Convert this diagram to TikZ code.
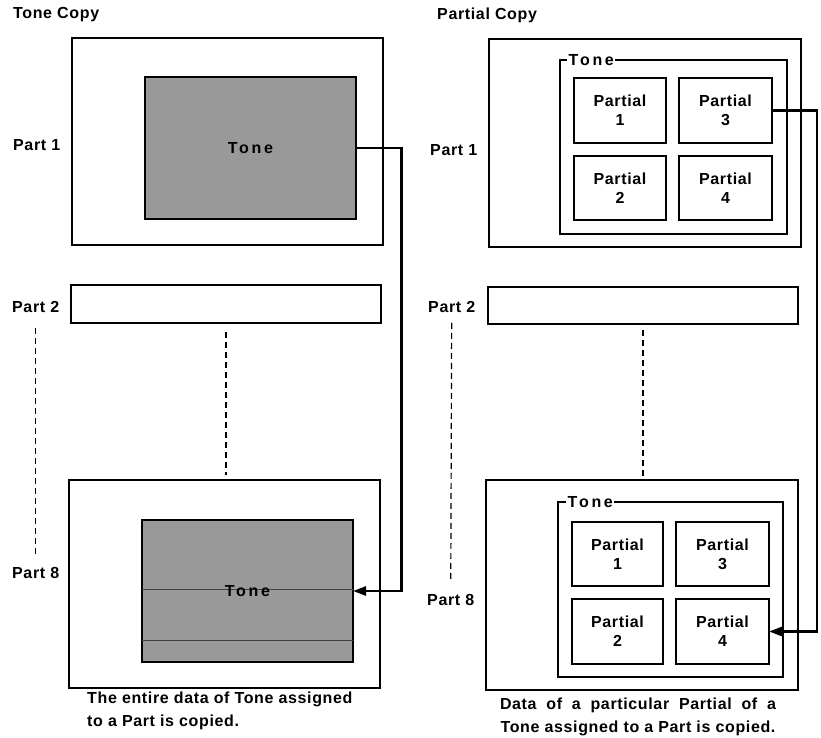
\documentclass[tikz,border=0pt]{standalone}
\usepackage{fontspec}
\newfontfamily\lf[LetterSpace=4]{Liberation Sans}
\newfontfamily\tf[LetterSpace=17]{Liberation Sans}
\usetikzlibrary{arrows.meta}
\begin{document}
\begin{tikzpicture}[x=1pt,y=-1pt,
  box/.style={draw, line width=1.4pt, inner sep=0pt, outer sep=0pt, anchor=north west},
  shadebox/.style={box, fill=black!40},
  lab/.style={font=\lf\bfseries\fontsize{16}{22.5}\selectfont, inner sep=0pt},
  plab/.style={font=\lf\bfseries\fontsize{16}{19}\selectfont, align=center},
  tonelab/.style={font=\tf\bfseries\fontsize{16}{18}\selectfont, inner sep=1.5pt},
  conn/.style={line width=2.6pt, -{Triangle[length=13pt,width=9pt]}},
  dashline/.style={line width=1.2pt, dash pattern=on 6pt off 4pt},
  streak/.style={line width=0.9pt, black!75},
]
\useasboundingbox (0,0) rectangle (821,738);

% ---------------- Left panel: Tone Copy ----------------
\node[lab, anchor=west] (titleL) at (13,15) {Tone Copy};

\node[box, minimum width=311pt, minimum height=207pt] (P1L) at (72,38) {};
\node[shadebox, minimum width=211pt, minimum height=142pt] (T1L) at (145,77) {};
\node[tonelab] (T1Llab) at (T1L.center) {Tone};
\node[lab, anchor=west] (p1l) at (13,145) {Part 1};

\node[box, minimum width=310pt, minimum height=38pt] (P2L) at (71,285) {};
\node[lab, anchor=west] (p2l) at (12,307) {Part 2};

\node[box, minimum width=311pt, minimum height=208pt] (P8L) at (69,480) {};
\node[shadebox, minimum width=211pt, minimum height=142pt] (T8L) at (142,520) {};
\draw[streak] (T8L.west |- 0,589) -- (T8L.east |- 0,589);
\draw[streak] (T8L.west |- 0,640) -- (T8L.east |- 0,640);
\node[tonelab] (T8Llab) at (T8L.center) {Tone};
\node[lab, anchor=west] (p8l) at (12,573) {Part 8};

\draw[dashline, shorten <=15pt, shorten >=10pt] (p2l.south) -- (p8l.north);
\draw[dashline, shorten <=9pt, shorten >=5pt] (P2L.south) -- (P2L.south |- P8L.north);

\coordinate (xL) at (401.5,0);
\draw[conn] (T1L.east) -- (T1L.east -| xL) -- (T8L.east -| xL) -- (T8L.east);

\node[lab, anchor=west, align=left] (capL) at (87,711)
  {The entire data of Tone assigned\\to a Part is copied.};

% ---------------- Right panel: Partial Copy ----------------
\node[lab, anchor=west] (titleR) at (437,15) {Partial Copy};

\node[box, minimum width=312pt, minimum height=208pt] (P1R) at (489,39) {};
\node[box, minimum width=227pt, minimum height=174pt] (T1R) at (560,60) {};
\node[tonelab, fill=white, anchor=west] (T1Rlab) at (567,60) {Tone};
\node[box, plab, minimum width=92pt, minimum height=65pt] (Pa1) at (574,78) {Partial\\1};
\node[box, plab, minimum width=93pt, minimum height=65pt] (Pa3) at (679,78) {Partial\\3};
\node[box, plab, minimum width=92pt, minimum height=64pt] (Pa2) at (574,156) {Partial\\2};
\node[box, plab, minimum width=93pt, minimum height=64pt] (Pa4) at (679,156) {Partial\\4};
\node[lab, anchor=west] (p1r) at (430,150) {Part 1};

\node[box, minimum width=310pt, minimum height=37pt] (P2R) at (488,287) {};
\node[lab, anchor=west] (p2r) at (428,307) {Part 2};

\node[box, minimum width=312pt, minimum height=210pt] (P8R) at (486,480) {};
\node[box, minimum width=225pt, minimum height=175pt] (T8R) at (558,502) {};
\node[tonelab, fill=white, anchor=west] (T8Rlab) at (566,502) {Tone};
\node[box, plab, minimum width=91pt, minimum height=64pt] (Pb1) at (572,522) {Partial\\1};
\node[box, plab, minimum width=93pt, minimum height=64pt] (Pb3) at (676,522) {Partial\\3};
\node[box, plab, minimum width=91pt, minimum height=65pt] (Pb2) at (572,599) {Partial\\2};
\node[box, plab, minimum width=93pt, minimum height=65pt] (Pb4) at (676,599) {Partial\\4};
\node[lab, anchor=west] (p8r) at (427,600) {Part 8};

\draw[dashline, shorten <=10pt, shorten >=12pt] (p2r.south) -- (p8r.north);
\draw[dashline, shorten <=6pt, shorten >=3pt] (P2R.south) -- (P2R.south |- P8R.north);

\coordinate (xR) at (817,0);
\draw[conn] (Pa3.east) -- (Pa3.east -| xR) -- (Pb4.east -| xR) -- (Pb4.east);

\node[lab, align=center] (capR) at (638,717)
  {\makebox[276pt][s]{Data of a particular Partial of a}\\Tone assigned to a Part is copied.};
\end{tikzpicture}
\end{document}
